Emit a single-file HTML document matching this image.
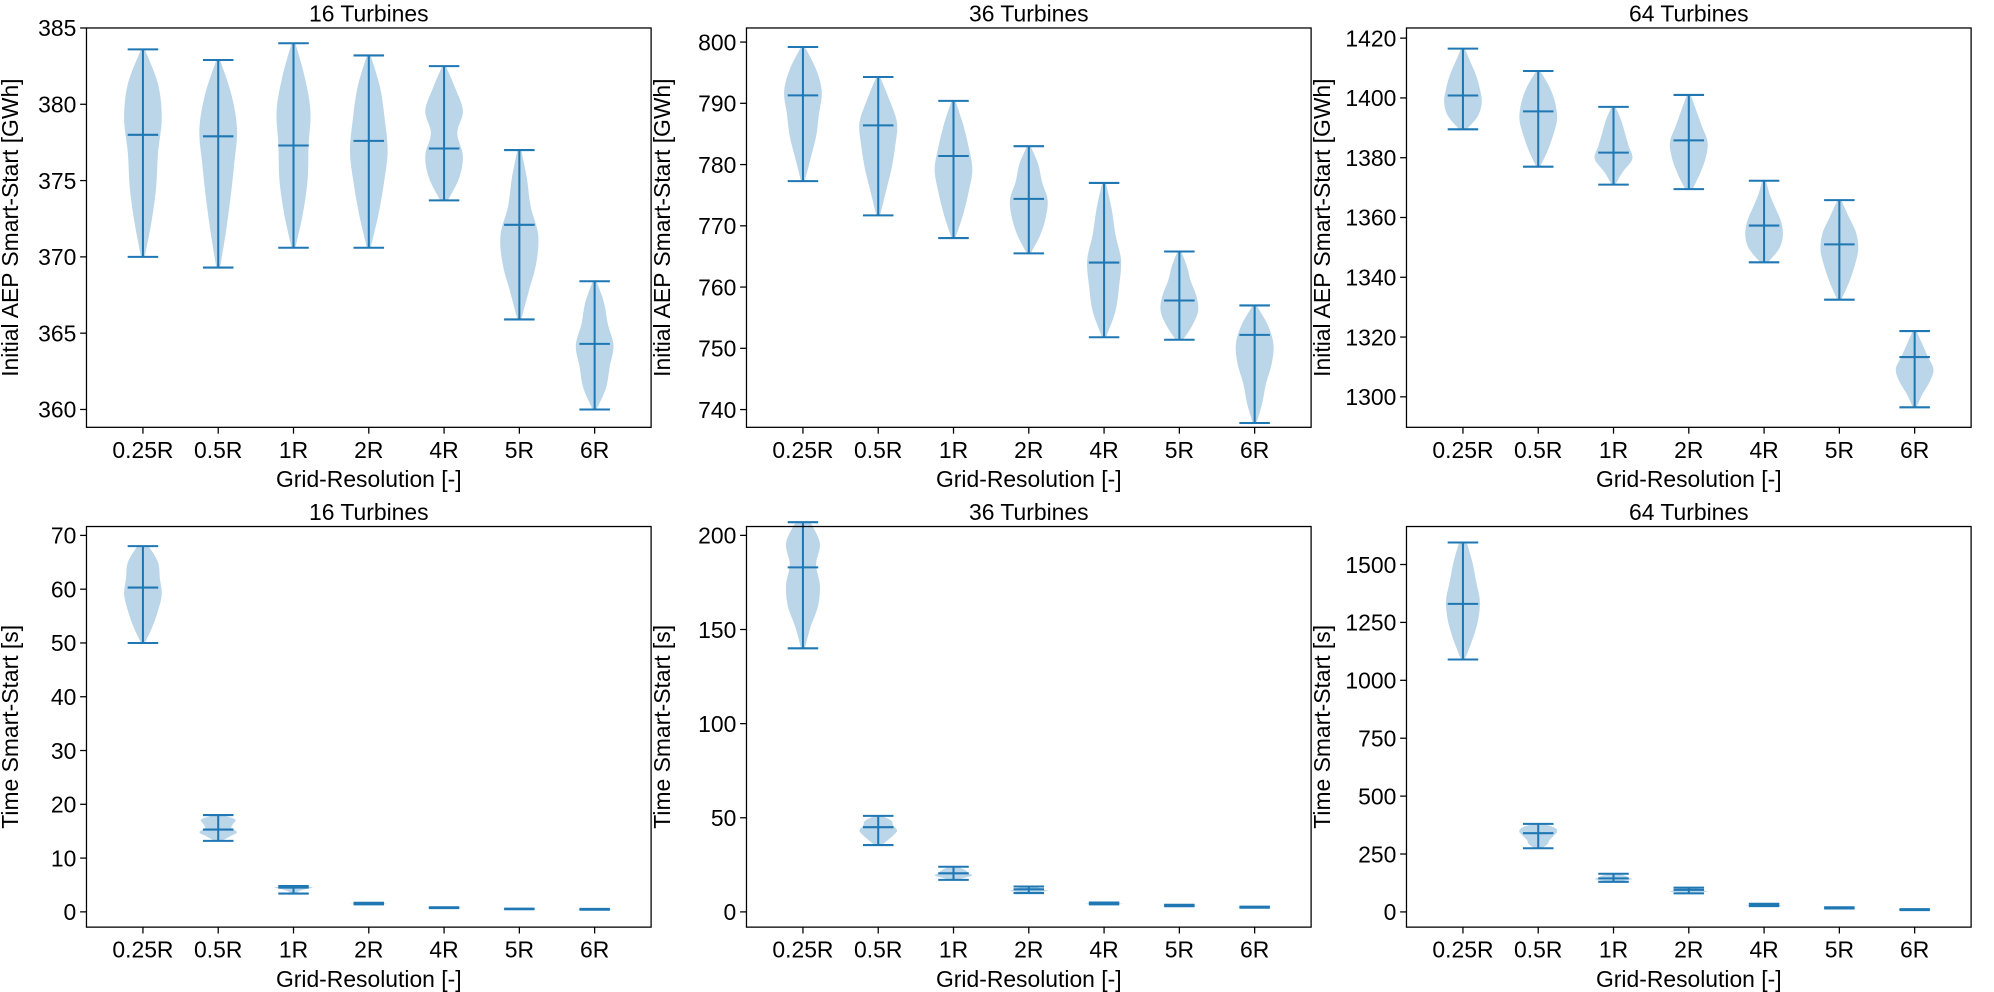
<!DOCTYPE html>
<html><head><meta charset="utf-8">
<style>
html,body{margin:0;padding:0;background:#fff;}
svg{display:block;font-family:"Liberation Sans","DejaVu Sans",sans-serif;}
</style></head>
<body>
<svg id="fig" width="1994" height="992" viewBox="0 0 1568 780" preserveAspectRatio="none" xmlns="http://www.w3.org/2000/svg"></svg>
<script>
const categories = ["0.25R","0.5R","1R","2R","4R","5R","6R"];
const titles = ["16 Turbines","36 Turbines","64 Turbines","16 Turbines","36 Turbines","64 Turbines"];
const yLabels = ["Initial AEP Smart-Start [GWh]","Initial AEP Smart-Start [GWh]","Initial AEP Smart-Start [GWh]","Time Smart-Start [s]","Time Smart-Start [s]","Time Smart-Start [s]"];
const yTicks1 = [360,365,370,375,380,385];
const yTicks2 = [740,750,760,770,780,790,800];
const yTicks3 = [1300,1320,1340,1360,1380,1400,1420];
const yTicks4 = [0,10,20,30,40,50,60,70];
const yTicks5 = [0,50,100,150,200];
const yTicks6 = [0,250,500,750,1000,1250,1500];
const yTicks = [yTicks1,yTicks2,yTicks3,yTicks4,yTicks5,yTicks6];
const yLims = [[358.83,385],[737.1,802.3],[1289.8,1423.4],[-2.84,71.65],[-8.1,204.7],[-65.7,1664]];
const mins1=[370,369.3,370.6,370.6,373.7,365.9,360], maxs1=[383.6,382.9,384,383.2,382.5,377,368.4], meds1=[378,377.9,377.3,377.6,377.1,372.1,364.3];
const mins2=[777.3,771.7,768,765.5,751.8,751.4,737.8], maxs2=[799.2,794.3,790.4,783,777,765.8,757], meds2=[791.3,786.4,781.4,774.4,764,757.8,752.2];
const mins3=[1389.5,1377,1371,1369.5,1345,1332.5,1296.5], maxs3=[1416.5,1409,1397,1401,1372.3,1365.8,1322], meds3=[1400.8,1395.5,1381.7,1385.8,1357.3,1351,1313.3];
const mins4=[50,13.2,3.4,1.4,0.7,0.5,0.4], maxs4=[68,18,4.8,1.7,0.85,0.6,0.55], meds4=[60.3,15.3,4.5,1.5,0.78,0.55,0.45];
const mins5=[140,35.5,17,10,4,3,2.2], maxs5=[207,51,24,13.5,5,3.8,2.8], meds5=[183,45,20.5,12,4.5,3.3,2.5];
const mins6=[1090,275,130,80,25,15,8], maxs6=[1595,380,165,105,35,20,12], meds6=[1330,340,145,95,30,17,10];
const mins=[mins1,mins2,mins3,mins4,mins5,mins6], maxs=[maxs1,maxs2,maxs3,maxs4,maxs5,maxs6], meds=[meds1,meds2,meds3,meds4,meds5,meds6];
const dens1=[[0.1,0.45,0.7,0.8,1,0.8,0.1],[0.1,0.4,0.65,0.85,1,0.7,0.1],[0.1,0.5,0.75,0.8,0.9,0.6,0.1],[0.1,0.5,0.8,1,0.85,0.6,0.1],[0.2,0.8,1,0.7,1,0.6,0.1],[0.1,0.5,0.9,1,0.6,0.4,0.1],[0.1,0.6,0.8,1,0.7,0.5,0.1]];
const dens2=[[0.1,0.4,0.7,0.85,1,0.7,0.1],[0.1,0.4,0.7,0.9,1,0.6,0.1],[0.1,0.5,0.8,1,0.8,0.5,0.1],[0.1,0.6,0.9,1,0.7,0.5,0.1],[0.1,0.6,0.8,0.9,0.6,0.4,0.1],[0.2,0.7,1,0.9,0.6,0.4,0.1],[0.1,0.4,0.6,0.9,1,0.7,0.1]];
const dens3=[[0.2,0.8,1,0.9,0.7,0.4,0.1],[0.1,0.5,0.8,1,0.9,0.6,0.1],[0.1,0.5,1,0.8,0.6,0.4,0.1],[0.2,0.6,0.9,1,0.7,0.4,0.1],[0.2,0.8,1,0.9,0.6,0.3,0.1],[0.1,0.5,0.8,1,0.9,0.5,0.1],[0.1,0.4,0.8,1,0.7,0.4,0.1]];
const dens4=[[0.1,0.5,0.8,1,0.9,0.8,0.3],[0.2,0.6,1,0.7,0.8,0.9,0.2],[0.1,0.2,0.3,0.5,0.8,1,0.3],[0.3,0.8,1,0.8,0.6,0.4,0.2],[0.3,0.7,1,0.8,0.6,0.4,0.2],[0.3,0.7,1,0.8,0.6,0.4,0.2],[0.3,0.7,1,0.8,0.6,0.4,0.2]];
const dens5=[[0.1,0.4,0.8,0.9,0.7,0.9,0.4],[0.2,0.5,0.8,1,0.8,0.7,0.2],[0.2,0.6,1,0.8,0.7,0.5,0.2],[0.2,0.6,1,0.8,0.7,0.5,0.2],[0.3,0.7,1,0.8,0.6,0.4,0.2],[0.3,0.7,1,0.8,0.6,0.4,0.2],[0.3,0.7,1,0.8,0.6,0.4,0.2]];
const dens6=[[0.1,0.5,0.8,0.9,0.7,0.5,0.2],[0.2,0.5,0.6,0.8,1,0.9,0.3],[0.2,0.6,1,0.8,0.7,0.5,0.2],[0.2,0.6,1,0.8,0.7,0.5,0.2],[0.3,0.7,1,0.8,0.6,0.4,0.2],[0.3,0.7,1,0.8,0.6,0.4,0.2],[0.3,0.7,1,0.8,0.6,0.4,0.2]];
const dens=[dens1,dens2,dens3,dens4,dens5,dens6];

const NS="http://www.w3.org/2000/svg";
const svg=document.getElementById('fig');
const BLUE="#1f77b4";
function mk(tag,attrs,parent){const e=document.createElementNS(NS,tag);for(const k in attrs)e.setAttribute(k,attrs[k]);(parent||svg).appendChild(e);return e;}
const lefts=[68,587,1106], W=444, tops=[22,414], H=[314,315];
function smoothPath(pts){let d="M"+pts[0][0]+","+pts[0][1];for(let i=0;i<pts.length-1;i++){const p0=pts[Math.max(0,i-1)],p1=pts[i],p2=pts[i+1],p3=pts[Math.min(pts.length-1,i+2)];const c1=[p1[0]+(p2[0]-p0[0])/6,p1[1]+(p2[1]-p0[1])/6],c2=[p2[0]-(p3[0]-p1[0])/6,p2[1]-(p3[1]-p1[1])/6];d+=" C"+c1[0]+","+c1[1]+" "+c2[0]+","+c2[1]+" "+p2[0]+","+p2[1];}return d;}
for(let p=0;p<6;p++){
  const L=lefts[p%3], T=tops[Math.floor(p/3)], h=H[Math.floor(p/3)];
  const g=mk('g',{});
  
  
  const [y0,y1]=yLims[p];
  const ys=v=>T+h-(v-y0)/(y1-y0)*h;
  const xs=i=>L+(i+1-0.25)/7.5*W;
  for(let i=0;i<7;i++){
    const cx=xs(i), lo=mins[p][i], hi=maxs[p][i], d=dens[p][i], n=d.length;
    const right=[], left=[];
    for(let k=0;k<n;k++){const v=lo+(hi-lo)*k/(n-1);right.push([cx+d[k]*14.8,ys(v)]);left.push([cx-d[k]*14.8,ys(v)]);}
    const path=smoothPath(right)+" L"+left[n-1][0]+","+left[n-1][1]+smoothPath(left.reverse()).replace(/^M[^ ]+/,"")+" Z";
    const body=mk('path',{d:path,fill:BLUE,'fill-opacity':0.3,stroke:'none'},g);
    
    
    const ln=mk('path',{d:`M${cx},${ys(lo)}V${ys(hi)}M${cx-12},${ys(lo)}H${cx+12}M${cx-12},${ys(hi)}H${cx+12}M${cx-12},${ys(meds[p][i])}H${cx+12}`,stroke:BLUE,'stroke-width':1.6,fill:'none'},g);
    
    
  }
  const frame=mk('rect',{x:L,y:T,width:W,height:h,fill:'none',stroke:'#000','stroke-width':1},g);
  
  
  for(let i=0;i<7;i++){const x=xs(i);mk('line',{x1:x,x2:x,y1:T+h,y2:T+h+5,stroke:'#000','stroke-width':1},g);
    const t=mk('text',{x:x,y:T+h+24,'font-size':18,'text-anchor':'middle',fill:'#000'},g);t.textContent=categories[i];
    
    }
  for(const v of yTicks[p]){const y=ys(v);mk('line',{x1:L-5,x2:L,y1:y,y2:y,stroke:'#000','stroke-width':1},g);
    const t=mk('text',{x:L-8,y:y+6.5,'font-size':18,'text-anchor':'end',fill:'#000'},g);t.textContent=v;
    
    }
  const ti=mk('text',{x:L+W/2,y:T-5,'font-size':18,'text-anchor':'middle',fill:'#000'},g);ti.textContent=titles[p];
  
  
  const xl=mk('text',{x:L+W/2,y:T+h+47,'font-size':18,'text-anchor':'middle',fill:'#000'},g);xl.textContent="Grid-Resolution [-]";
  
  
  const lx=p%3===0? L-54 : L-60;
  const yl=mk('text',{x:lx,y:T+h/2,'font-size':18,'text-anchor':'middle',fill:'#000',transform:`rotate(-90 ${lx} ${T+h/2})`},g);yl.textContent=yLabels[p];
  
  
}
</script>
</body></html>
